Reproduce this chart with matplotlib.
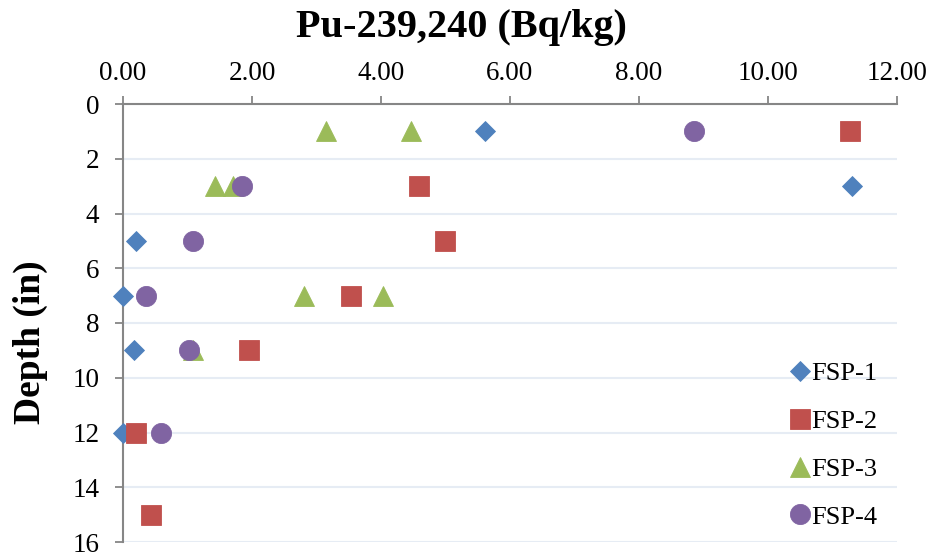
import matplotlib
matplotlib.use("Agg")
import matplotlib.pyplot as plt

# Data: Pu-239,240 activity (Bq/kg) vs depth (in)
fsp1_depth = [1, 3, 5, 7, 9, 12]
fsp1_pu = [5.62, 11.30, 0.20, 0.00, 0.17, 0.00]

fsp2_depth = [1, 3, 5, 7, 9, 12, 15]
fsp2_pu = [11.27, 4.59, 5.00, 3.54, 1.95, 0.20, 0.44]

fsp3_depth = [1, 1, 3, 3, 7, 7, 9]
fsp3_pu = [3.14, 4.46, 1.42, 1.71, 2.80, 4.03, 1.08]

fsp4_depth = [1, 3, 5, 7, 9, 12]
fsp4_pu = [8.85, 1.84, 1.08, 0.36, 1.02, 0.59]

x_ticks = [0, 2, 4, 6, 8, 10, 12]
x_ticklabels = ["0.00", "2.00", "4.00", "6.00", "8.00", "10.00", "12.00"]
y_ticks = [0, 2, 4, 6, 8, 10, 12, 14, 16]

plt.rcParams['font.family'] = ['Liberation Serif', 'DejaVu Serif']

fig = plt.figure(figsize=(9.29, 5.57), dpi=100)
ax = fig.add_axes([123/929, 1 - 542/557, (897 - 123)/929, (542 - 104)/557])

series = [
    (fsp1_pu, fsp1_depth, "FSP-1", "D", "#4F81BD", 10.0),
    (fsp2_pu, fsp2_depth, "FSP-2", "s", "#C0504D", 14.0),
    (fsp3_pu, fsp3_depth, "FSP-3", "^", "#9BBB59", 14.5),
    (fsp4_pu, fsp4_depth, "FSP-4", "o", "#8064A2", 14.5),
]
for x, y, lab, m, c, ms in series:
    ax.plot(x, y, linestyle="none", marker=m, markersize=ms, color=c,
            markeredgecolor=c, markeredgewidth=0.6, label=lab, clip_on=False, zorder=3)

ax.set_xlim(0, 12)
ax.set_ylim(16, 0)
ax.xaxis.tick_top()
ax.set_xticks(x_ticks)
ax.set_xticklabels(x_ticklabels)
ax.set_yticks(y_ticks)

for s in ["right", "bottom"]:
    ax.spines[s].set_visible(False)
for s in ["top", "left"]:
    ax.spines[s].set_color("#868686")
    ax.spines[s].set_linewidth(1.5)

ax.tick_params(axis="x", which="both", top=True, bottom=False, direction="out",
               length=6, width=1.3, color="#868686", labelsize=19.5, pad=7)
ax.tick_params(axis="y", which="both", left=True, direction="out",
               length=6, width=1.3, color="#868686", labelsize=19.5, pad=11)

ax.yaxis.grid(True, color="#E6ECF4", linewidth=1.5)
ax.xaxis.grid(False)
ax.set_axisbelow(True)

fig.text(461/929, 1 - 27/557, "Pu-239,240 (Bq/kg)", ha="center", va="center",
         fontsize=29, fontweight="bold")
fig.text(30/929, 1 - 342/557, "Depth (in)", ha="center", va="center",
         rotation=90, fontsize=27, fontweight="bold")

leg = ax.legend(loc="upper left", bbox_to_anchor=(789/929, 1 - 362/557),
                bbox_transform=fig.transFigure, frameon=False, fontsize=19,
                handlelength=0.8, handletextpad=0.05, labelspacing=0.92,
                borderaxespad=0, borderpad=0, numpoints=1)

fig.savefig("out.png", dpi=100)
